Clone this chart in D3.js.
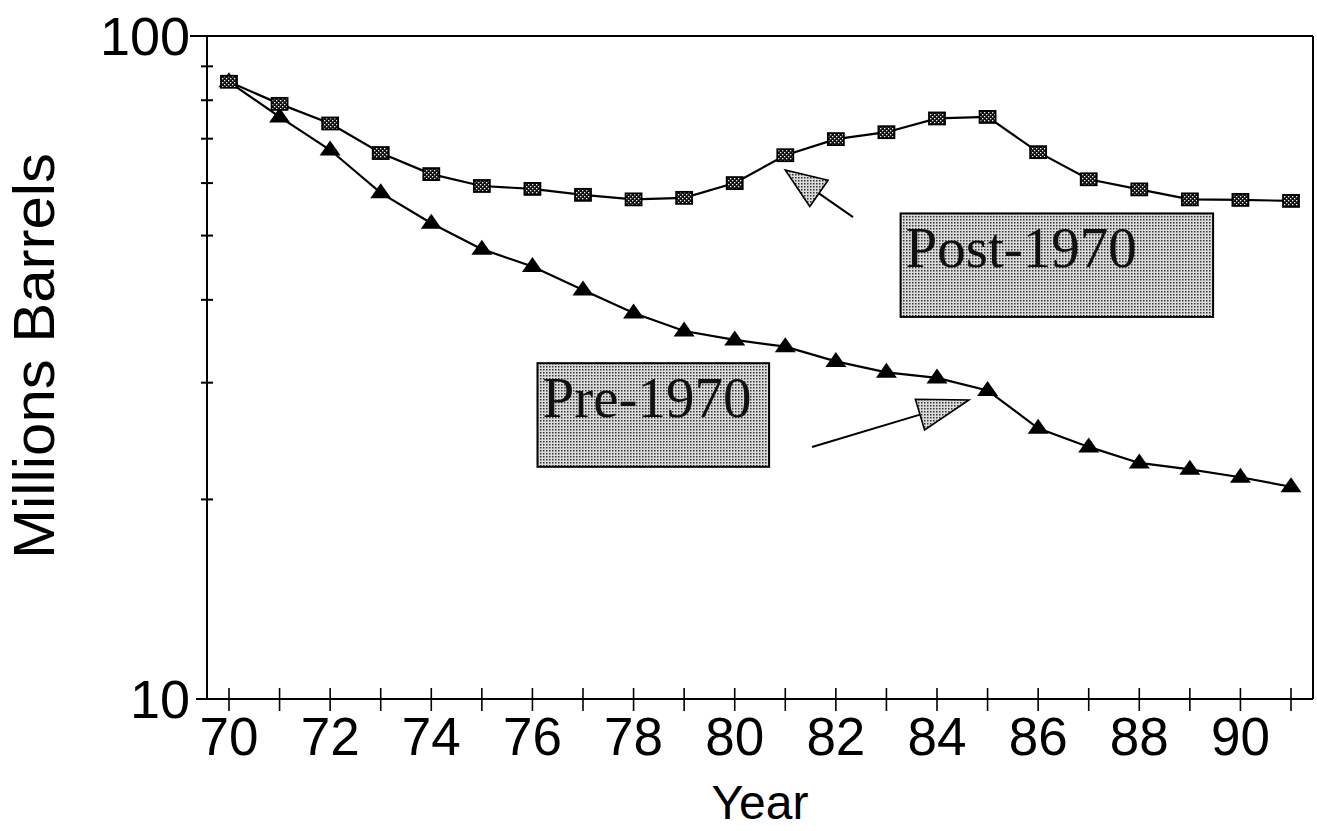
<!DOCTYPE html>
<html>
<head>
<meta charset="utf-8">
<script src="https://cdn.jsdelivr.net/npm/d3@7"></script>
<style>
  html, body { margin: 0; padding: 0; background: #fff; }
  svg { display: block; }
</style>
</head>
<body>
<svg id="chart" width="1317" height="831"></svg>
<script>
// Production decline, millions of barrels per year (log scale)
const years = [70, 71, 72, 73, 74, 75, 76, 77, 78, 79, 80, 81, 82, 83, 84, 85, 86, 87, 88, 89, 90, 91];
const post1970 = [85.3, 79.0, 73.8, 66.6, 61.9, 59.4, 58.8, 57.6, 56.7, 57.0, 60.0, 66.1, 69.9, 71.6, 75.1, 75.5, 66.8, 60.8, 58.7, 56.7, 56.6, 56.4];
const pre1970  = [85.3, 75.5, 67.3, 58.0, 52.2, 47.7, 44.9, 41.4, 38.2, 35.9, 34.8, 34.0, 32.3, 31.1, 30.5, 29.2, 25.6, 24.0, 22.7, 22.2, 21.6, 20.9];
const xTickLabels = [70, 72, 74, 76, 78, 80, 82, 84, 86, 88, 90];
const yTicks = [10, 20, 30, 40, 50, 60, 70, 80, 90, 100];
const yTickLabels = [10, 100];

const svg = d3.select("#chart");

const plot = { left: 207, right: 1313, top: 36, bottom: 699 };
const x = d3.scaleLinear().domain([70, 91]).range([229, 1291]);
const y = d3.scaleLog().domain([10, 100]).range([plot.bottom, plot.top]);

// fill patterns
const defs = svg.append("defs");
const boxPat = defs.append("pattern").attr("id", "boxPat")
  .attr("patternUnits", "userSpaceOnUse").attr("width", 3).attr("height", 3);
boxPat.append("rect").attr("width", 3).attr("height", 3).attr("fill", "#dcdcdc");
boxPat.append("rect").attr("width", 1.5).attr("height", 1.5).attr("fill", "#333");

const sqPat = defs.append("pattern").attr("id", "sqPat")
  .attr("patternUnits", "userSpaceOnUse").attr("width", 4).attr("height", 4);
sqPat.append("rect").attr("width", 4).attr("height", 4).attr("fill", "#111");
sqPat.append("rect").attr("x", 0).attr("y", 0).attr("width", 1.3).attr("height", 1.3).attr("fill", "#eee");
sqPat.append("rect").attr("x", 2).attr("y", 2).attr("width", 1.3).attr("height", 1.3).attr("fill", "#eee");

const sans = "Liberation Sans, Arial, sans-serif";

// frame
const frame = svg.append("g").attr("stroke", "#000").attr("stroke-width", 2).attr("fill", "none");
frame.append("line").attr("x1", plot.left).attr("x2", plot.left).attr("y1", plot.top).attr("y2", plot.bottom);
frame.append("line").attr("x1", plot.right).attr("x2", plot.right).attr("y1", plot.top).attr("y2", plot.bottom);
frame.append("line").attr("x1", plot.left - 17).attr("x2", plot.right).attr("y1", y(100)).attr("y2", y(100));
frame.append("line").attr("x1", plot.left - 11).attr("x2", plot.right).attr("y1", y(10)).attr("y2", y(10));

// y ticks (crossing the axis)
svg.append("g").selectAll("line")
  .data(yTicks.filter(v => v !== 10 && v !== 100))
  .join("line")
  .attr("x1", plot.left - 6).attr("x2", plot.left + 6)
  .attr("y1", d => y(d)).attr("y2", d => y(d))
  .attr("stroke", "#000").attr("stroke-width", 2);

svg.append("g").selectAll("text")
  .data(yTickLabels)
  .join("text")
  .attr("x", 190).attr("y", d => y(d))
  .attr("dy", "0.36em")
  .attr("text-anchor", "end")
  .attr("font-family", sans)
  .attr("font-size", 54)
  .text(d => d);

// x ticks (crossing the axis)
svg.append("g").selectAll("line")
  .data(years)
  .join("line")
  .attr("x1", d => x(d)).attr("x2", d => x(d))
  .attr("y1", plot.bottom - 11).attr("y2", plot.bottom + 12)
  .attr("stroke", "#000").attr("stroke-width", 1.6);

svg.append("g").selectAll("text")
  .data(xTickLabels)
  .join("text")
  .attr("x", d => x(d)).attr("y", 755)
  .attr("text-anchor", "middle")
  .attr("font-family", sans)
  .attr("font-size", 53)
  .text(d => d);

// axis titles
svg.append("text")
  .attr("x", 760).attr("y", 819)
  .attr("text-anchor", "middle")
  .attr("font-family", sans)
  .attr("font-size", 48)
  .text("Year");

svg.append("text")
  .attr("transform", "translate(54,356) rotate(-90)")
  .attr("text-anchor", "middle")
  .attr("font-family", sans)
  .attr("font-size", 57)
  .attr("textLength", 406).attr("lengthAdjust", "spacingAndGlyphs")
  .text("Millions Barrels");

// series lines
const line = d3.line().x(d => x(d[0])).y(d => y(d[1]));
const postPts = years.map((yr, i) => [yr, post1970[i]]);
const prePts = years.map((yr, i) => [yr, pre1970[i]]);

svg.append("path").datum(prePts).attr("d", line)
  .attr("fill", "none").attr("stroke", "#000").attr("stroke-width", 2.2);
svg.append("path").datum(postPts).attr("d", line)
  .attr("fill", "none").attr("stroke", "#000").attr("stroke-width", 2.2);

// triangle markers (pre-1970)
const triPath = "M0,-9.5 L10.5,5.5 L-10.5,5.5 Z";
svg.append("g").selectAll("path")
  .data(prePts)
  .join("path")
  .attr("transform", d => `translate(${x(d[0])},${y(d[1])})`)
  .attr("d", triPath)
  .attr("fill", "#000");

// square markers (post-1970)
svg.append("g").selectAll("rect")
  .data(postPts)
  .join("rect")
  .attr("x", d => x(d[0]) - 8).attr("y", d => y(d[1]) - 6)
  .attr("width", 16).attr("height", 12)
  .attr("fill", "url(#sqPat)")
  .attr("stroke", "#000").attr("stroke-width", 1.8);

// callout boxes and arrows, placed in data units
const callouts = [
  { label: "Post-1970", box: [83.28, 89.46, 54.0, 37.7], tail: [82.34, 53.3], tip: [81.0, 62.8], head: 41 },
  { label: "Pre-1970",  box: [76.10, 80.68, 32.1, 22.4], tail: [81.53, 24.0], tip: [84.63, 28.25], head: 51 }
];

callouts.forEach(c => {
  const bx0 = x(c.box[0]), bx1 = x(c.box[1]);
  const by0 = y(c.box[2]), by1 = y(c.box[3]);
  svg.append("rect")
    .attr("x", bx0).attr("y", by0)
    .attr("width", bx1 - bx0).attr("height", by1 - by0)
    .attr("fill", "url(#boxPat)")
    .attr("stroke", "#000").attr("stroke-width", 2);
  svg.append("text")
    .attr("x", bx0 + 5).attr("y", by0 + 54)
    .attr("font-family", "Liberation Serif, Times New Roman, serif")
    .attr("font-size", 57)
    .attr("fill", "#111")
    .text(c.label);

  const tx = x(c.tail[0]), ty = y(c.tail[1]);
  const px = x(c.tip[0]), py = y(c.tip[1]);
  const len = Math.hypot(px - tx, py - ty);
  const ux = (px - tx) / len, uy = (py - ty) / len;
  const cx = px - ux * c.head, cy = py - uy * c.head;
  const w = 16;
  svg.append("line")
    .attr("x1", tx).attr("y1", ty).attr("x2", cx).attr("y2", cy)
    .attr("stroke", "#000").attr("stroke-width", 2);
  svg.append("path")
    .attr("d", `M${px},${py} L${cx - uy * w},${cy + ux * w} L${cx + uy * w},${cy - ux * w} Z`)
    .attr("fill", "url(#boxPat)")
    .attr("stroke", "#000").attr("stroke-width", 1.6);
});
</script>
</body>
</html>
